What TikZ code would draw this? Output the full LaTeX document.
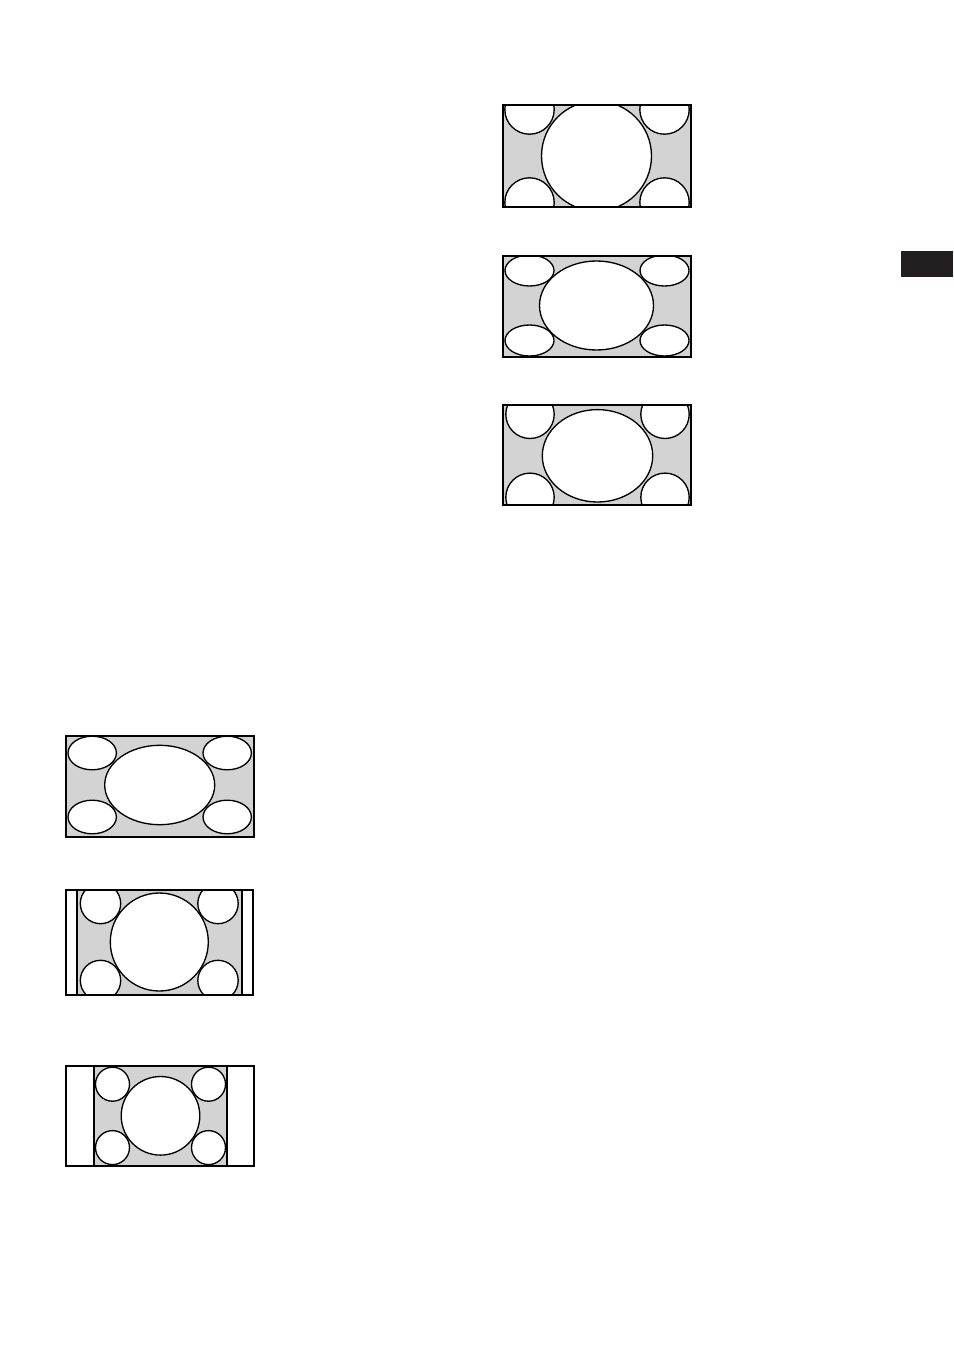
\documentclass[tikz,border=0pt]{standalone}
\definecolor{panelgray}{RGB}{211,211,211}
\definecolor{tabblack}{RGB}{35,31,32}
\begin{document}
\begin{tikzpicture}[x=0.75pt,y=-0.75pt,
  frame/.style={draw=black,line width=1.5pt},
  lens/.style={draw=black,fill=white,line width=1pt},
  screen/.style={fill=panelgray}]
\useasboundingbox (0,0) rectangle (953,1352);
\fill[white] (0,0) rectangle (953,1352);
% tab
\fill[tabblack] (901,251) rectangle (953,277);
% panel 1
\begin{scope}
\clip (502.5,105.5) rectangle (690.5,206.5);
\fill[screen] (502.5,105.5) rectangle (690.5,206.5);
\draw[lens] (596.5,156) circle[radius=55];
\foreach \cx/\cy in {529.5/109.5,664.5/109.5,529.5/202.5,664.5/202.5}
  \draw[lens] (\cx,\cy) circle[radius=24.7];
\end{scope}
\draw[frame] (502.5,105.5) rectangle (690.5,206.5);
% panel 2
\begin{scope}
\clip (502.5,255.5) rectangle (690.5,356.5);
\fill[screen] (502.5,255.5) rectangle (690.5,356.5);
\draw[lens] (596.5,305.5) ellipse[x radius=57,y radius=44.5];
\foreach \cx/\cy in {529.5/270.5,664.5/270.5,529.5/340.5,664.5/340.5}
  \draw[lens] (\cx,\cy) ellipse[x radius=24.5,y radius=15.5];
\end{scope}
\draw[frame] (502.5,255.5) rectangle (690.5,356.5);
% panel 3
\begin{scope}
\clip (503,405) rectangle (691,505);
\fill[screen] (503,405) rectangle (691,505);
\draw[lens] (597.5,455.8) ellipse[x radius=55.2,y radius=46.2];
\foreach \cx/\cy in {530/414.3,665/414.3,530/497.3,665/497.3}
  \draw[lens] (\cx,\cy) circle[radius=24.2];
\end{scope}
\draw[frame] (503,405) rectangle (691,505);
% panel 4
\begin{scope}
\clip (65.5,735.5) rectangle (253.5,836.5);
\fill[screen] (65.5,735.5) rectangle (253.5,836.5);
\draw[lens] (159.7,785) ellipse[x radius=55,y radius=39.7];
\foreach \cx/\cy in {92.2/753,227.2/753,92.2/817,227.2/817}
  \draw[lens] (\cx,\cy) ellipse[x radius=24.2,y radius=16.8];
\end{scope}
\draw[frame] (65.5,735.5) rectangle (253.5,836.5);
% panel 5
\begin{scope}
\clip (77,889.5) rectangle (242,994.5);
\fill[screen] (77,889.5) rectangle (242,994.5);
\draw[lens] (159.3,942) circle[radius=49];
\foreach \cx/\cy in {100.5/903.5,218/903.5,100.5/980.5,218/980.5}
  \draw[lens] (\cx,\cy) circle[radius=20.2];
\end{scope}
\draw[frame] (65.5,889.5) rectangle (253,994.5);
\draw[frame] (77,889.5) -- (77,994.5);
\draw[frame] (242,889.5) -- (242,994.5);
% panel 6
\begin{scope}
\clip (94,1065.5) rectangle (227,1166);
\fill[screen] (94,1065.5) rectangle (227,1166);
\draw[lens] (160.5,1115.8) circle[radius=39.3];
\foreach \cx/\cy in {112.5/1084.2,208.5/1084.2,112.5/1147.6,208.5/1147.6}
  \draw[lens] (\cx,\cy) circle[radius=17];
\end{scope}
\draw[frame] (65.5,1065.5) rectangle (253.5,1166);
\draw[frame] (94,1065.5) -- (94,1166);
\draw[frame] (227,1065.5) -- (227,1166);
\end{tikzpicture}
\end{document}
